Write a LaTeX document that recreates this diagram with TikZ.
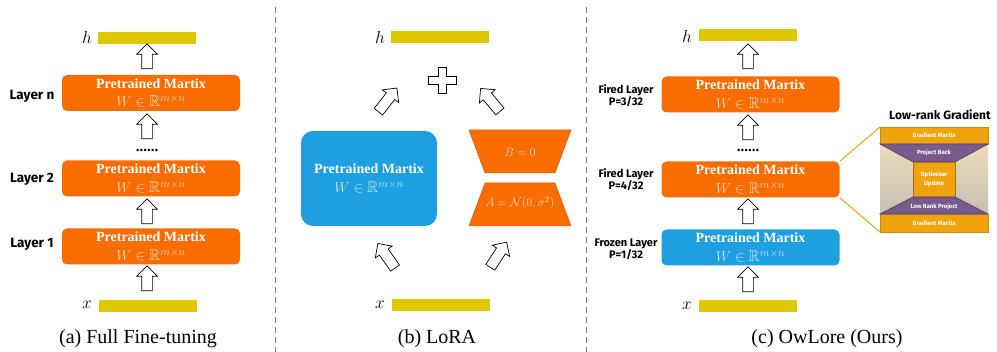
\documentclass[tikz,border=0pt]{standalone}
\usepackage{fontspec}
\usepackage{amssymb}
\setmainfont{Liberation Serif}
\newfontfamily\cfont{Fira Sans}
\usetikzlibrary{shapes.arrows,shapes.geometric,calc}
\definecolor{orgC}{RGB}{249,108,0}
\definecolor{bluC}{RGB}{30,160,224}
\definecolor{barC}{RGB}{224,200,0}
\definecolor{gradO}{RGB}{239,163,12}
\definecolor{purC}{RGB}{121,90,140}
\definecolor{purD}{RGB}{80,58,102}
\definecolor{begC}{RGB}{236,220,185}
\definecolor{grayB}{RGB}{196,192,182}
\newcommand{\pmtext}[1]{\textbf{Pretrained Martix}\\[2.5pt]{\fontsize{15.5}{16}\selectfont\color{#1}$W\in\mathbb{R}^{m\times n}$}}
\begin{document}
\begin{tikzpicture}[x=1pt,y=1pt,
 ybar/.style={fill=barC, minimum width=98pt, minimum height=12pt, inner sep=0pt},
 pm/.style={fill=orgC, rounded corners=5pt, minimum width=178pt, minimum height=36pt, inner sep=0pt, align=center, text=white, font=\fontsize{14}{16}\selectfont},
 frz/.style={pm, fill=bluC},
 barrow/.style={single arrow, draw=black, fill=white, line width=0.7pt, minimum height=25pt, minimum width=20pt, single arrow head extend=5pt, inner sep=5pt},
 uparr/.style={barrow, rotate=90},
 darrow/.style={barrow, minimum height=30pt},
 lab/.style={font=\cfont\bfseries\fontsize{13.5}{15}\selectfont},
 plab/.style={font=\cfont\bfseries\fontsize{11}{12}\selectfont, align=center},
 captxt/.style={font=\fontsize{20}{24}\selectfont},
 mlab/.style={font=\fontsize{18}{20}\selectfont, inner sep=0pt},
 dotlab/.style={font=\bfseries\fontsize{15}{15}\selectfont, inner sep=0pt},
 divider/.style={draw=gray, dash pattern=on 6pt off 4pt, line width=0.8pt},
 trap/.style={fill=orgC, draw=orgC!85!black, line width=0.5pt},
 mtxt/.style={text=white!75!orgC, font=\fontsize{12.5}{14}\selectfont},
 itxt/.style={text=white, font=\cfont\bfseries\fontsize{6}{7.5}\selectfont, align=center, inner sep=0pt},
 ]
\useasboundingbox (0,0) rectangle (997,352);
% dividers
\coordinate (d1t) at (275,345); \coordinate (d1b) at (275,0);
\coordinate (d2t) at (586,345); \coordinate (d2b) at (586,0);
\draw[divider] (d1t) -- (d1b);
\draw[divider] (d2t) -- (d2b);

% ---------- (a) ----------
\node[ybar] (ha) at (147,314) {};
\node[mlab] (hal) at (87,314) {$h$};
\node[uparr] (a1) at (147,293) {};
\node[pm] (ln) at (151,259) {\pmtext{white!75!orgC}};
\node[uparr] (a2) at (147,223) {};
\node[dotlab] (da) at (147,201) {......};
\node[pm] (l2) at (151,173.5) {\pmtext{white!75!orgC}};
\node[uparr] (a3) at (147,138) {};
\node[pm] (l1) at (151,105.5) {\pmtext{white!75!orgC}};
\node[uparr] (a4) at (147,71) {};
\node[ybar] (xa) at (148,46) {};
\node[mlab] (xal) at (87,47) {$x$};
\node[lab] (lnl) at (32,256) {Layer n};
\node[lab] (l2l) at (32,173) {Layer 2};
\node[lab] (l1l) at (32,108) {Layer 1};
\node[captxt] (capa) at (138,13) {(a) Full Fine-tuning};

% ---------- (b) ----------
\node[ybar] (hb) at (440,314.5) {};
\node[mlab] (hbl) at (380,314) {$h$};
\coordinate (plus) at (442,272);
\draw[line width=0.7pt, fill=white, shift={(plus)}]
 (-4,13) -- (4,13) -- (4,4) -- (14,4) -- (14,-4) -- (4,-4) -- (4,-13)
 -- (-4,-13) -- (-4,-4) -- (-14,-4) -- (-14,4) -- (-4,4) -- cycle;
\node[darrow, rotate=52] (b1) at (386,250) {};
\node[darrow, rotate=130] (b2) at (492,250) {};
\node[frz, minimum width=136pt, minimum height=95pt, rounded corners=12pt] (wb) at (369,173.5) {\pmtext{white!75!bluC}};
\path[trap] (469,222) -- (571,222) -- (555,179) -- (485,179) -- cycle;
\path[trap] (485,169) -- (555,169) -- (571,126) -- (469,126) -- cycle;
\node[mtxt] (bt) at (520,200) {$B=0$};
\node[mtxt] (at) at (520,149) {$A=\mathcal{N}(0,\sigma^2)$};
\node[darrow, rotate=125] (b3) at (388,94) {};
\node[darrow, rotate=57] (b4) at (497,95) {};
\node[ybar] (xb) at (441,46.5) {};
\node[mlab] (xbl) at (380,47) {$x$};
\node[captxt] (capb) at (437,13) {(b) LoRA};

% ---------- (c) ----------
\node[ybar] (hc) at (748,316.5) {};
\node[mlab] (hcl) at (687,315) {$h$};
\node[uparr] (c1) at (748,293) {};
\node[pm] (f1) at (750.5,257.5) {\pmtext{white!75!orgC}};
\node[uparr] (c2) at (748,222) {};
\node[dotlab] (dc) at (748,201) {......};
\node[pm] (f2) at (750.5,172.5) {\pmtext{white!75!orgC}};
\node[uparr] (c3) at (748,138) {};
\node[frz] (fz) at (750.5,104.5) {\pmtext{white!75!bluC}};
\node[uparr] (c4) at (748,70) {};
\node[ybar] (xc) at (748,45.5) {};
\node[mlab] (xcl) at (687,46) {$x$};
\node[plab] (f1l) at (626,256.5) {Fired Layer\\P=3/32};
\node[plab] (f2l) at (626,172.5) {Fired Layer\\P=4/32};
\node[plab] (fzl) at (626,103) {Frozen Layer\\P=1/32};
\node[captxt] (capc) at (827,13) {(c) OwLore (Ours)};

% ---------- inset ----------
\coordinate (itl) at (880,225);
\coordinate (ibl) at (880,120);
\draw[gradO, line width=1pt] (f2.north east) -- (itl);
\draw[gradO, line width=1pt] (f2.south east) -- (ibl);
\shade[top color=begC, bottom color=grayB] (880,138) rectangle (988,208);
\draw[fill=gradO, draw=gradO!85!black, line width=0.4pt] (880,208) rectangle (988,225);
\draw[fill=gradO, draw=gradO!85!black, line width=0.4pt] (880,120) rectangle (988,138);
\draw[fill=purC, draw=purD, line width=0.6pt] (880,208) -- (988,208) -- (955,190) -- (913,190) -- cycle;
\draw[fill=gradO, draw=gradO!70!black, line width=0.5pt] (913,155) rectangle (955,190);
\draw[fill=purC, draw=purD, line width=0.6pt] (913,155) -- (955,155) -- (988,138) -- (880,138) -- cycle;
\node[itxt] (g1) at (934,217) {Gradient Martix};
\node[itxt] (pb) at (934,199.5) {Project Back};
\node[itxt] (ou) at (934,173) {Optimizer\\[2pt]Update};
\node[itxt] (lr) at (934,145.5) {Low Rank Project};
\node[itxt] (g2) at (934,129) {Gradient Martix};
\node[font=\cfont\bfseries\fontsize{12}{14}\selectfont, inner sep=0pt] (lrg) at (940,237) {Low-rank Gradient};
\end{tikzpicture}
\end{document}
